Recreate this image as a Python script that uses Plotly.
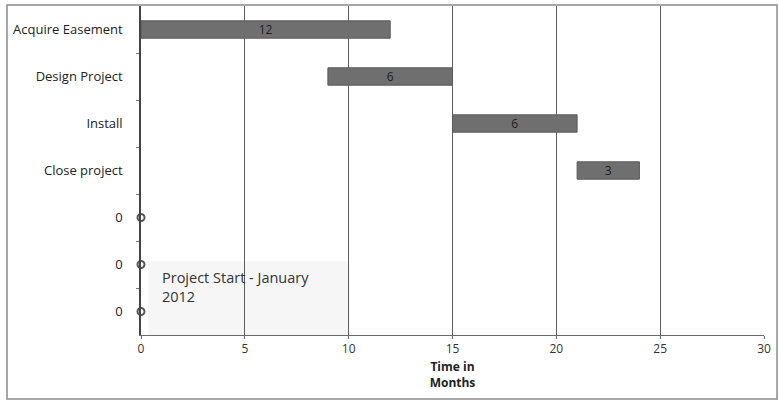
import plotly.graph_objects as go

# Schedule data (months)
tasks = ["Acquire Easement", "Design Project", "Install", "Close project"]
task_start = [0, 9, 15, 21]
task_duration = [12, 6, 6, 3]

# Milestone rows shown as zero-length markers
milestone_labels = ["0", "0", "0"]
milestone_values = [0, 0, 0]

row_labels = tasks + milestone_labels
task_rows = list(range(len(tasks)))
milestone_rows = list(range(len(tasks), len(row_labels)))

x_ticks = [0, 5, 10, 15, 20, 25, 30]

font_family = "Open Sans, Liberation Sans, sans-serif"

fig = go.Figure()

fig.add_trace(go.Bar(
    orientation="h",
    y=task_rows,
    x=task_duration,
    base=task_start,
    width=0.37,
    marker=dict(color="#6f6f6f", line=dict(color="#5a5a5a", width=1)),
    text=[str(d) for d in task_duration],
    textposition="inside",
    insidetextanchor="middle",
    textangle=0,
    constraintext="none",
    textfont=dict(color="#1e1e1e", size=12, family=font_family),
    showlegend=False,
    hoverinfo="skip",
))

fig.add_trace(go.Scatter(
    x=milestone_values,
    y=milestone_rows,
    mode="markers",
    marker=dict(symbol="circle-open", size=7, color="#555555", line=dict(width=2)),
    showlegend=False,
    hoverinfo="skip",
    cliponaxis=False,
))

fig.update_xaxes(
    range=[0, 30],
    tickvals=x_ticks,
    ticktext=[str(v) for v in x_ticks],
    showgrid=True,
    gridcolor="#5e5e5e",
    gridwidth=1,
    zeroline=False,
    showline=True,
    linecolor="#6a6a6a",
    linewidth=1,
    ticks="outside",
    ticklen=3,
    tickcolor="#6a6a6a",
    tickfont=dict(size=12, color="#333333", family=font_family),
    title=dict(
        text="<b>Time in<br>Months</b>",
        font=dict(size=12, color="#222222", family=font_family),
        standoff=6,
    ),
)

fig.update_yaxes(
    range=[len(row_labels) - 0.5, -0.5],
    tickmode="array",
    tickvals=list(range(len(row_labels))),
    ticktext=row_labels,
    showgrid=False,
    zeroline=False,
    showline=True,
    linecolor="#444444",
    linewidth=1.5,
    ticks="",
    ticklabelstandoff=14,
    tickfont=dict(size=13, color="#222222", family=font_family),
    minor=dict(
        tickmode="array",
        tickvals=[i + 0.5 for i in range(len(row_labels) - 1)],
        ticks="outside",
        ticklen=3,
        tickcolor="#777777",
        showgrid=False,
    ),
)

# Project start note box
fig.add_shape(
    type="rect", xref="x", yref="y",
    x0=0.35, x1=10.05, y0=4.93, y1=6.5,
    fillcolor="#f6f6f6", line=dict(width=0), layer="below",
)
fig.add_annotation(
    xref="x", yref="y",
    x=0.9, y=5.48,
    text="Project Start - January<br>2012",
    showarrow=False,
    xanchor="left", yanchor="middle", align="left",
    font=dict(size=14.5, color="#333333", family=font_family),
)

# Chart frame
fig.add_shape(
    type="rect", xref="paper", yref="paper",
    x0=-0.2151, x1=1.0209, y0=-0.1945, y1=1.003,
    line=dict(color="#8a8a8a", width=1.5), fillcolor="rgba(0,0,0,0)",
)

fig.update_layout(
    width=779,
    height=401,
    margin=dict(l=141, r=15, t=6, b=66),
    paper_bgcolor="white",
    plot_bgcolor="white",
    barmode="overlay",
    font=dict(family=font_family),
)

fig.write_html("out.html")
